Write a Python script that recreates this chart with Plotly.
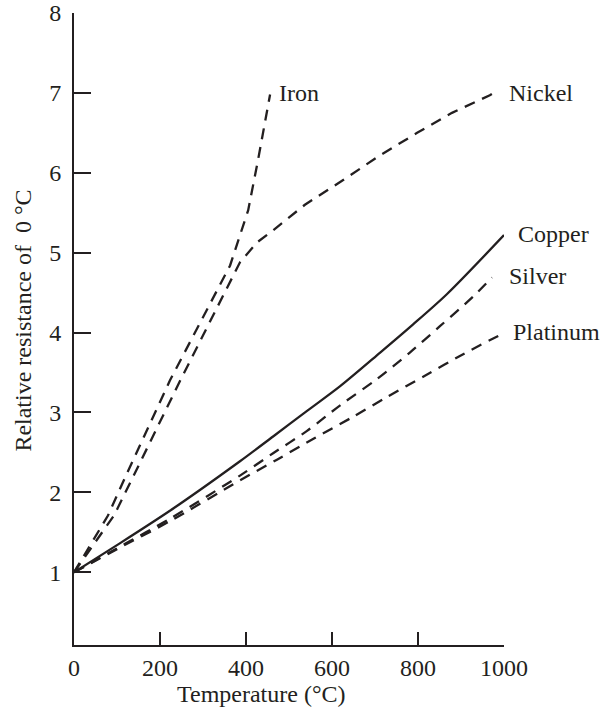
import plotly.graph_objects as go

# Relative resistance R(T)/R(0 °C) of common metals
iron_t = [0, 79, 119, 223, 363, 405, 428, 456]
iron_r = [1.0, 1.71, 2.19, 3.40, 4.84, 5.53, 6.16, 6.98]

nickel_t = [0, 93, 137, 247, 386, 426, 463, 537, 626, 712, 798, 879, 967, 985]
nickel_r = [1.0, 1.71, 2.19, 3.40, 4.88, 5.13, 5.28, 5.60, 5.91, 6.22, 6.50, 6.75, 6.97, 7.03]

copper_t = [0, 100, 223, 386, 463, 542, 619, 712, 788, 867, 1000]
copper_r = [1.0, 1.34, 1.77, 2.39, 2.70, 3.02, 3.33, 3.75, 4.10, 4.48, 5.22]

silver_t = [0, 100, 223, 386, 463, 542, 619, 705, 781, 851, 928, 972]
silver_r = [1.0, 1.30, 1.67, 2.21, 2.49, 2.77, 3.09, 3.42, 3.75, 4.08, 4.45, 4.69]

platinum_t = [0, 100, 223, 386, 472, 560, 647, 730, 816, 905, 998]
platinum_r = [1.0, 1.29, 1.64, 2.15, 2.41, 2.68, 2.94, 3.20, 3.46, 3.73, 3.99]

x_ticks = [0, 200, 400, 600, 800, 1000]
y_ticks = [1, 2, 3, 4, 5, 6, 7, 8]

INK = "#231f20"
FONT = "Liberation Serif"
FS = 24
DASH = "11px,8px"

fig = go.Figure()

series = [
    ("Iron", iron_t, iron_r, DASH, "linear"),
    ("Nickel", nickel_t, nickel_r, DASH, "linear"),
    ("Copper", copper_t, copper_r, "solid", "spline"),
    ("Silver", silver_t, silver_r, DASH, "spline"),
    ("Platinum", platinum_t, platinum_r, DASH, "spline"),
]
for name, t, r, dash, shape in series:
    fig.add_trace(go.Scatter(
        x=t, y=r, mode="lines", name=name,
        line=dict(color=INK, width=2.3, dash=dash, shape=shape, smoothing=0.8),
        showlegend=False, hoverinfo="skip",
    ))

# Curve labels at the end of each line (paper coordinates)
labels = [
    ("Iron", 0.472, 0.873),
    ("Nickel", 1.007, 0.873),
    ("Copper", 1.028, 0.651),
    ("Silver", 1.007, 0.584),
    ("Platinum", 1.016, 0.495),
]
for text, x, y in labels:
    fig.add_annotation(x=x, y=y, xref="paper", yref="paper", text=text, showarrow=False,
                       xanchor="left", yanchor="middle",
                       font=dict(family=FONT, size=FS, color=INK))

# Axis titles
fig.add_annotation(x=0.437, y=-0.077, xref="paper", yref="paper",
                   text="Temperature (°C)", showarrow=False,
                   xanchor="center", yanchor="middle",
                   font=dict(family=FONT, size=FS, color=INK))
fig.add_annotation(x=-0.119, y=0.513, xref="paper", yref="paper",
                   text="Relative resistance of\u00a0 0 °C", showarrow=False,
                   textangle=-90, xanchor="center", yanchor="middle",
                   font=dict(family=FONT, size=FS, color=INK))

fig.update_xaxes(range=[0, 1000], tickvals=x_ticks, ticks="inside", ticklen=13,
                 tickwidth=2, tickcolor=INK, showline=True, linecolor=INK, linewidth=2,
                 showgrid=False, zeroline=False, ticklabelstandoff=0, automargin=False,
                 tickfont=dict(family=FONT, size=FS, color=INK))
fig.update_yaxes(range=[0.09, 8], tickvals=y_ticks, ticks="inside", ticklen=17,
                 tickwidth=2, tickcolor=INK, showline=True, linecolor=INK, linewidth=2,
                 showgrid=False, zeroline=False, ticklabelstandoff=6, automargin=False,
                 tickfont=dict(family=FONT, size=FS, color=INK))

fig.update_layout(width=601, height=708, margin=dict(l=74, r=97, t=13, b=63),
                  plot_bgcolor="white", paper_bgcolor="white")

fig.write_html("out.html")
